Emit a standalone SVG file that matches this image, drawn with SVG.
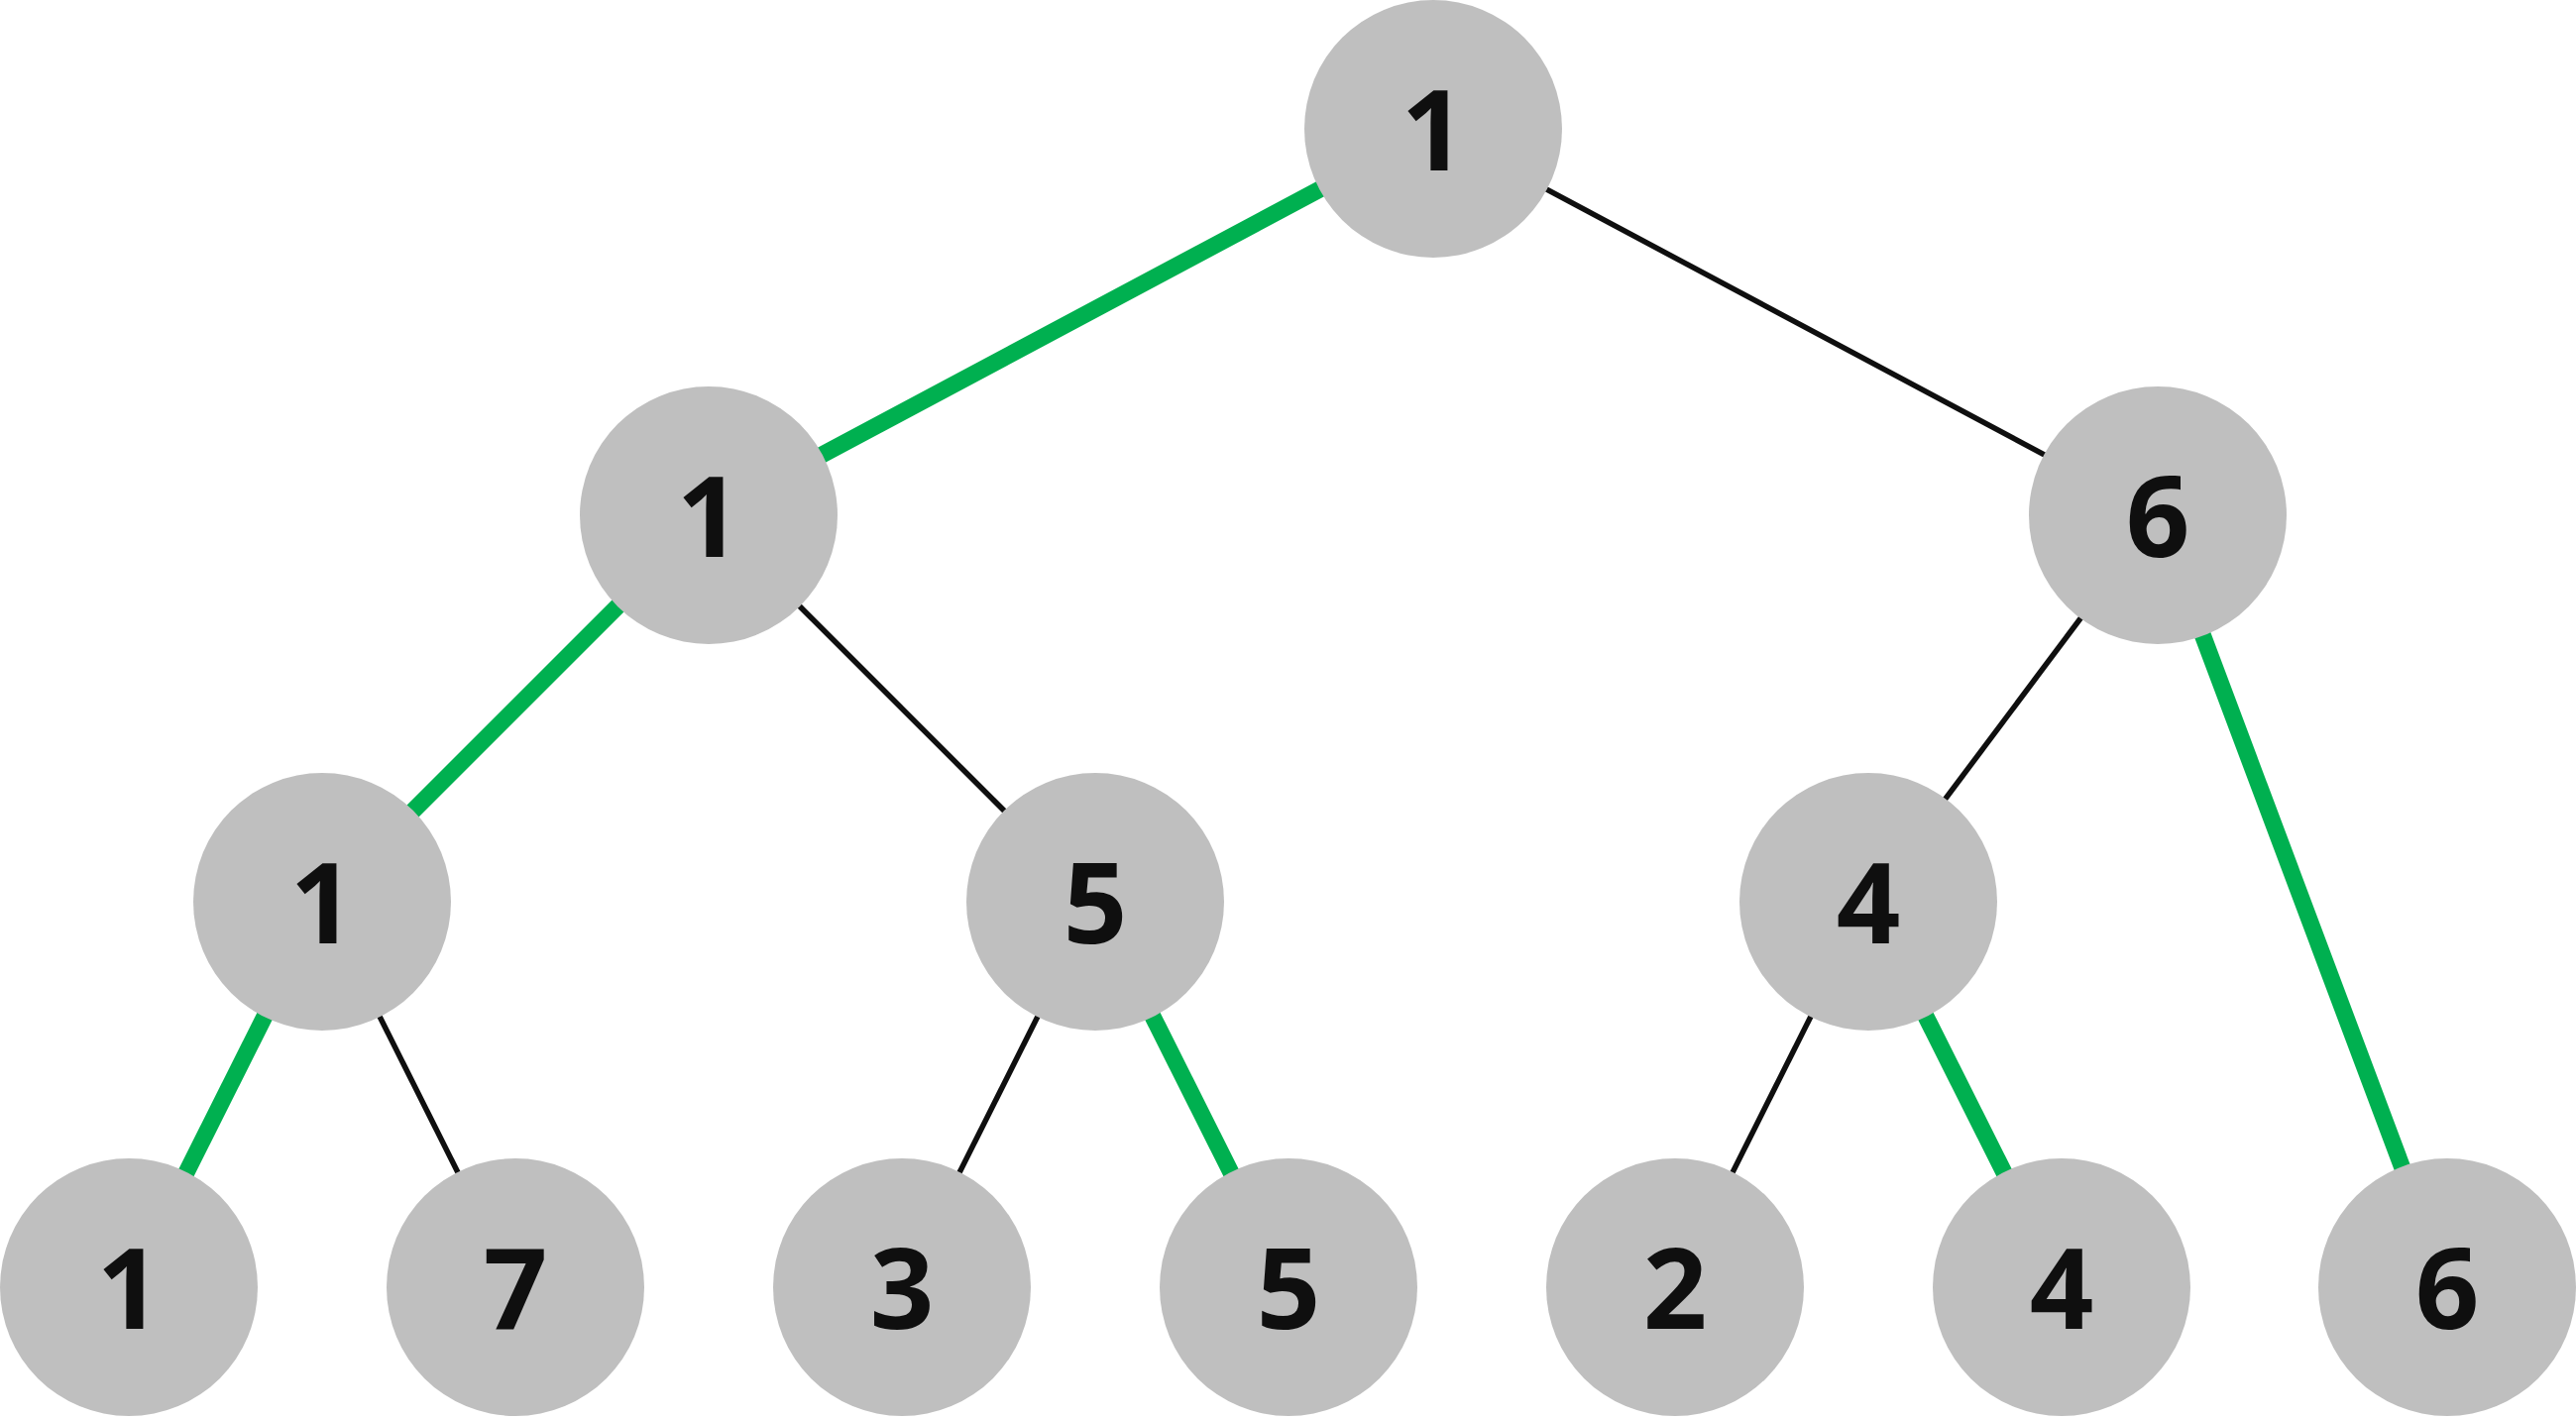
<svg xmlns="http://www.w3.org/2000/svg" width="2599" height="1432" viewBox="0 0 2599 1432">
<style>
.e{stroke:#0f0f0f;stroke-width:5.5;fill:none}
.g{stroke:#00b050;stroke-width:17;fill:none}
.n circle{fill:#bfbfbf}
.n text{font-family:"Open Sans","Noto Sans","DejaVu Sans",sans-serif;font-weight:700;font-size:113px;fill:#0f0f0f;text-anchor:middle}
</style>
<rect width="2599" height="1432" fill="#ffffff"/>
<g id="connectors">
<line class="g" x1="1446" y1="130" x2="715" y2="520"/>
<line class="e" x1="1446" y1="130" x2="2177" y2="520"/>
<line class="g" x1="715" y1="520" x2="325" y2="910"/>
<line class="e" x1="715" y1="520" x2="1105" y2="910"/>
<line class="e" x1="2177" y1="520" x2="1885" y2="910"/>
<line class="g" x1="2177" y1="520" x2="2469" y2="1299"/>
<line class="g" x1="325" y1="910" x2="130" y2="1299"/>
<line class="e" x1="325" y1="910" x2="520" y2="1299"/>
<line class="e" x1="1105" y1="910" x2="910" y2="1299"/>
<line class="g" x1="1105" y1="910" x2="1300" y2="1299"/>
<line class="e" x1="1885" y1="910" x2="1690" y2="1299"/>
<line class="g" x1="1885" y1="910" x2="2080" y2="1299"/>
</g>
<g id="n0" class="n"><circle cx="1446" cy="130" r="130"/><text x="1446" y="172">1</text></g>
<g id="n1" class="n"><circle cx="715" cy="520" r="130"/><text x="715" y="562">1</text></g>
<g id="n2" class="n"><circle cx="2177" cy="520" r="130"/><text x="2177" y="562">6</text></g>
<g id="n3" class="n"><circle cx="325" cy="910" r="130"/><text x="325" y="952">1</text></g>
<g id="n4" class="n"><circle cx="1105" cy="910" r="130"/><text x="1105" y="952">5</text></g>
<g id="n5" class="n"><circle cx="1885" cy="910" r="130"/><text x="1885" y="952">4</text></g>
<g id="n6" class="n"><circle cx="130" cy="1299" r="130"/><text x="130" y="1341">1</text></g>
<g id="n7" class="n"><circle cx="520" cy="1299" r="130"/><text x="520" y="1341">7</text></g>
<g id="n8" class="n"><circle cx="910" cy="1299" r="130"/><text x="910" y="1341">3</text></g>
<g id="n9" class="n"><circle cx="1300" cy="1299" r="130"/><text x="1300" y="1341">5</text></g>
<g id="n10" class="n"><circle cx="1690" cy="1299" r="130"/><text x="1690" y="1341">2</text></g>
<g id="n11" class="n"><circle cx="2080" cy="1299" r="130"/><text x="2080" y="1341">4</text></g>
<g id="n12" class="n"><circle cx="2469" cy="1299" r="130"/><text x="2469" y="1341">6</text></g>
</svg>
